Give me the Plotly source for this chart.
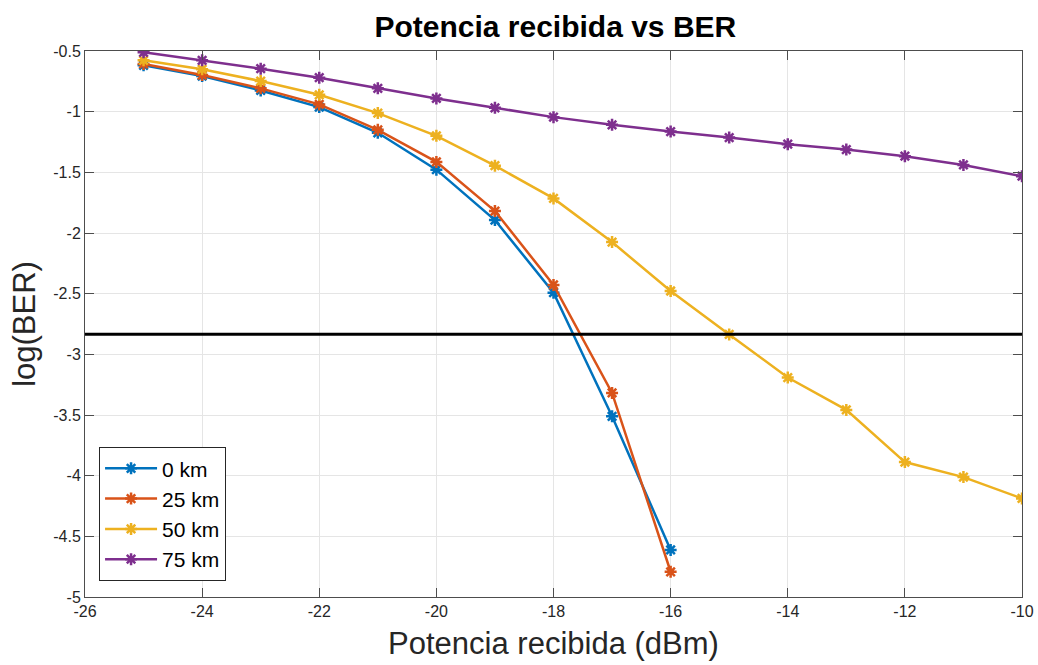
import plotly.graph_objects as go

potencia = [-25, -24, -23, -22, -21, -20, -19, -18, -17, -16, -15, -14, -13, -12, -11, -10]

ber_0km = [-0.618, -0.707, -0.825, -0.962, -1.174, -1.478, -1.893, -2.492, -3.511, -4.612]
ber_25km = [-0.607, -0.698, -0.808, -0.940, -1.150, -1.414, -1.819, -2.428, -3.318, -4.792]
ber_50km = [-0.577, -0.651, -0.748, -0.861, -1.012, -1.199, -1.445, -1.715, -2.075, -2.478,
            -2.836, -3.191, -3.458, -3.888, -4.012, -4.188]
ber_75km = [-0.511, -0.577, -0.646, -0.720, -0.808, -0.891, -0.968, -1.045, -1.108, -1.164,
            -1.213, -1.268, -1.312, -1.367, -1.439, -1.532]

umbral_x = [-26, -10]
umbral_y = [-2.835, -2.835]

series = [
    ("0 km", ber_0km, "#0072BD"),
    ("25 km", ber_25km, "#D95319"),
    ("50 km", ber_50km, "#EDB120"),
    ("75 km", ber_75km, "#7E2F8E"),
]

y_ticks = [-5, -4.5, -4, -3.5, -3, -2.5, -2, -1.5, -1, -0.5]
x_ticks = list(range(-26, -9, 2))

FONT = "Liberation Sans, Arial, Helvetica, sans-serif"

fig = go.Figure()
for name, vals, color in series:
    fig.add_trace(go.Scatter(
        x=potencia[:len(vals)], y=vals, name=name, mode="lines+markers",
        line=dict(color=color, width=2.5),
        marker=dict(symbol="asterisk-open", size=10, color=color,
                    line=dict(color=color, width=2.5)),
    ))

fig.add_trace(go.Scatter(
    x=umbral_x, y=umbral_y, mode="lines", showlegend=False,
    line=dict(color="black", width=3), hoverinfo="skip",
))

axis_common = dict(
    showgrid=True, gridcolor="#e5e5e5", gridwidth=1,
    showline=True, linecolor="#4d4d4d", linewidth=1, mirror="ticks",
    ticks="inside", ticklen=9, tickcolor="#4d4d4d",
    tickfont=dict(family=FONT, size=16, color="#262626"),
    zeroline=False, automargin=False,
)

fig.update_layout(
    width=1038, height=665,
    paper_bgcolor="white", plot_bgcolor="white",
    margin=dict(l=85, r=16, t=51, b=68),
    title=dict(text="<b>Potencia recibida vs BER</b>", x=0.535, xanchor="center",
               y=0.96, yanchor="middle",
               font=dict(family=FONT, size=30, color="black")),
    xaxis=dict(range=[-26, -10], tickvals=x_ticks, ticktext=[str(v) for v in x_ticks],
               title=dict(text="Potencia recibida (dBm)", standoff=13,
                          font=dict(family=FONT, size=31, color="#262626")),
               **axis_common),
    yaxis=dict(range=[-5, -0.5], tickvals=y_ticks, ticktext=[f"{v:g}" for v in y_ticks],
               title=dict(text="log(BER)", standoff=8,
                          font=dict(family=FONT, size=31, color="#262626")),
               **axis_common),
    legend=dict(x=0.015, y=0.029, xanchor="left", yanchor="bottom",
                bgcolor="white", bordercolor="#262626", borderwidth=1,
                font=dict(family=FONT, size=21, color="black"),
                tracegroupgap=0, itemwidth=52),
    showlegend=True,
)

fig.write_html("out.html", config={"displayModeBar": False},
               post_script="document.body.style.margin='0';document.body.style.padding='0';")
